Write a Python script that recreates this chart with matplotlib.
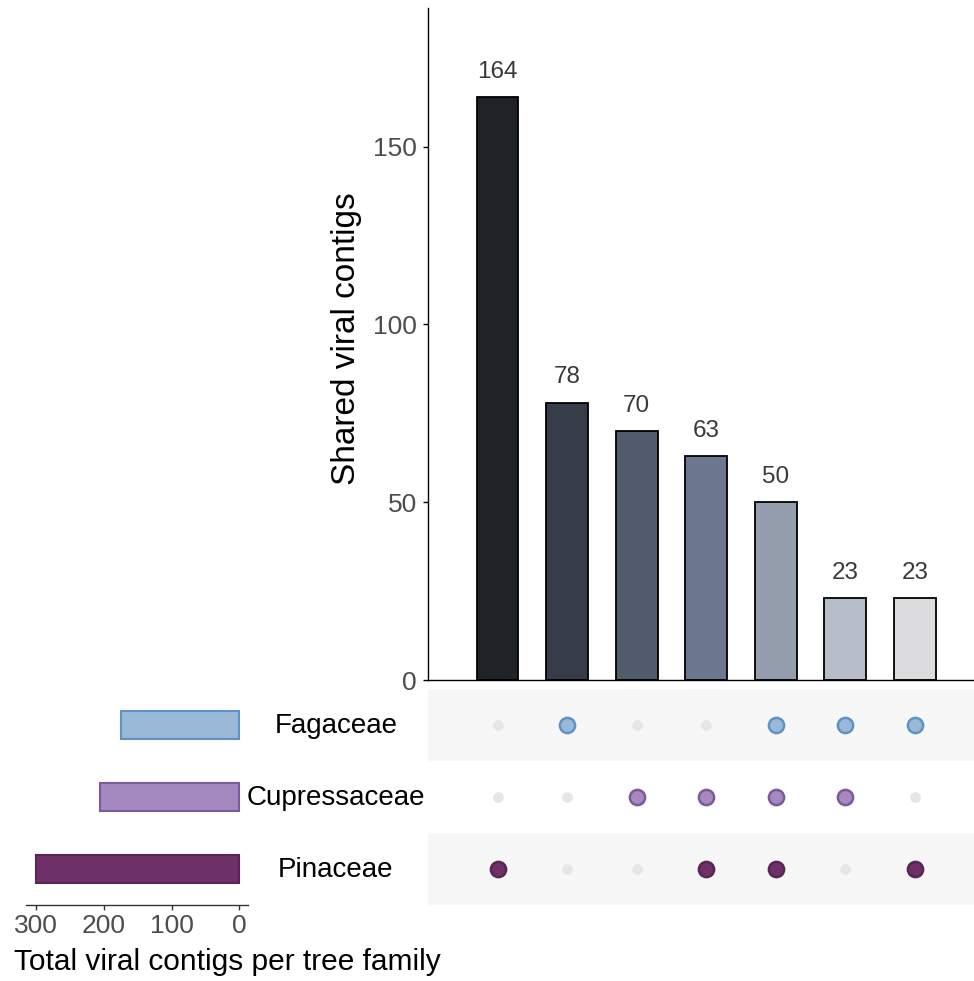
import matplotlib as mpl
import matplotlib.pyplot as plt
import numpy as np

mpl.rcParams['font.family'] = ['Liberation Sans', 'DejaVu Sans']

# ---------------------------------------------------------------------------- #

families = ['Fagaceae', 'Cupressaceae', 'Pinaceae']
family_totals = [174, 206, 300]
family_fill = ['#9ab8d8', '#a389bf', '#6d3068']
family_edge = ['#5e93c6', '#7a5a9c', '#5a2456']

shared_counts = [164, 78, 70, 63, 50, 23, 23]
bar_colors = ['#1f2226', '#373d48', '#525b6b', '#6b788f', '#939dab', '#b6bdc8', '#dcdcdf']

# membership of each intersection column (rows: Fagaceae, Cupressaceae, Pinaceae)
membership = [[0, 1, 0, 0, 1, 1, 1],
              [0, 0, 1, 1, 1, 1, 0],
              [1, 0, 0, 1, 1, 0, 1]]

W, H = 974, 981

def rect(x0, y0, x1, y1):
    # pixel box (top-left origin) -> figure fraction
    return [x0 / W, (H - y1) / H, (x1 - x0) / W, (y1 - y0) / H]

fig = plt.figure(figsize=(W / 100, H / 100), dpi=100)

# ---------------------------------------------------------------------------- #
# Intersection size bars.

ax_bar = fig.add_axes(rect(428, 8, 974, 680))
ncol = len(shared_counts)
xpos = np.arange(ncol)
ax_bar.bar(xpos, shared_counts, width=0.6, color=bar_colors, edgecolor='black', linewidth=1.3, zorder=2)
for x, v in zip(xpos, shared_counts):
    ax_bar.text(x, v + 4, str(v), ha='center', va='bottom', fontsize=17.5, color='#3a3a3a')
ax_bar.set_xlim(-1.0, 6.85)
ax_bar.set_ylim(0, 189)
ax_bar.set_yticks([0, 50, 100, 150])
ax_bar.set_xticks([])
ax_bar.spines['top'].set_visible(False)
ax_bar.spines['right'].set_visible(False)
for s in ['left', 'bottom']:
    ax_bar.spines[s].set_linewidth(1.0)
ax_bar.tick_params(axis='y', labelsize=19, labelcolor='#4d4d4d', length=3.6, width=1.0, pad=4.3)
fig.text(347 / W, 1 - 339 / H, 'Shared viral contigs', rotation=90,
         ha='center', va='center', fontsize=24)

# ---------------------------------------------------------------------------- #
# Membership matrix.

ax_mat = fig.add_axes(rect(428, 689, 974, 905))
nrow = len(families)
for r in range(nrow):
    if r % 2 == 0:
        ax_mat.axhspan(r - 0.5, r + 0.5, color='#f7f7f7', lw=0, zorder=0)
    for c in range(ncol):
        if membership[r][c]:
            ax_mat.scatter(c, r, s=120, color=family_fill[r], edgecolors=family_edge[r],
                           linewidths=1.8, zorder=3)
        else:
            ax_mat.scatter(c, r, s=60, color='#e6e6e6', lw=0, zorder=2)
ax_mat.set_xlim(-1.0, 6.85)
ax_mat.set_ylim(nrow - 0.5, -0.5)
ax_mat.axis('off')

for r, name in enumerate(families):
    fig.text(336 / W, 1 - (726 + 72 * r) / H, name, ha='center', va='center', fontsize=20)

# ---------------------------------------------------------------------------- #
# Total per family.

ax_set = fig.add_axes(rect(26, 689, 248, 905))
ypos = np.arange(nrow)
ax_set.barh(ypos, family_totals, height=0.4, color=family_fill, edgecolor=family_edge, linewidth=1.5)
ax_set.set_xlim(315, -13)
ax_set.set_ylim(nrow - 0.5, -0.5)
ax_set.set_xticks([300, 200, 100, 0])
ax_set.set_yticks([])
for s in ['top', 'right', 'left']:
    ax_set.spines[s].set_visible(False)
ax_set.spines['bottom'].set_color('#333333')
ax_set.spines['bottom'].set_linewidth(1.0)
ax_set.tick_params(axis='x', labelsize=19, labelcolor='#4d4d4d', color='#333333', length=3.6, width=1.0, pad=3)
fig.text(227 / W, 1 - 962 / H, 'Total viral contigs per tree family',
         ha='center', va='center', fontsize=21.5)

fig.savefig('out.png', dpi=100)
